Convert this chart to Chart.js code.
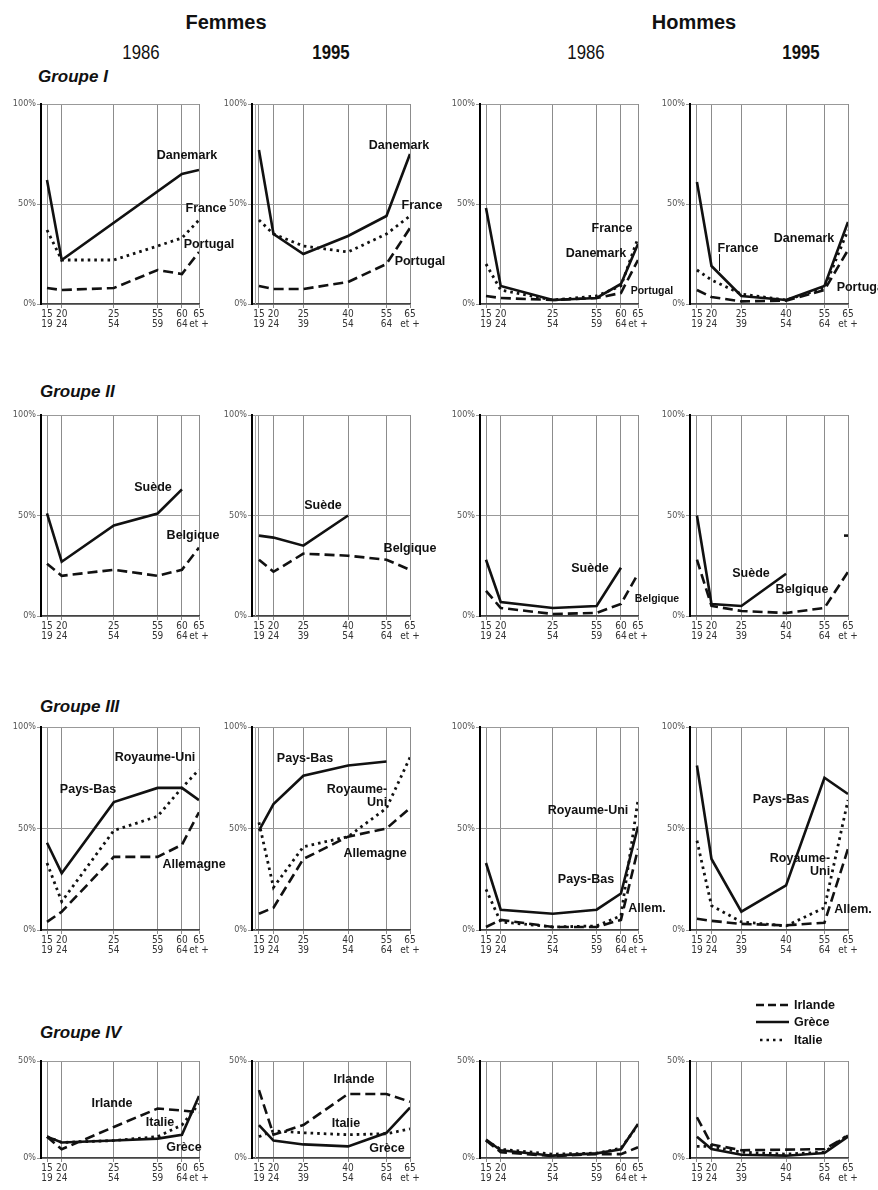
<!DOCTYPE html>
<html lang="fr">
<head>
<meta charset="utf-8">
<script src="https://cdn.jsdelivr.net/npm/chart.js@4.4.1/dist/chart.umd.min.js"></script>
<style>
  body { margin: 0; background: #fff; overflow: hidden; }
  #page { position: relative; width: 878px; height: 1190px; font-family: 'Liberation Sans', Arial, sans-serif; color: #111; overflow: hidden; }
  #page canvas { position: absolute; }
  .t { position: absolute; white-space: nowrap; transform: translate(-50%, -50%); line-height: 1; }
  .head { font-weight: bold; font-size: 20px; }
  .year { font-size: 20px; transform: translate(-50%, -50%) scaleX(0.84); }
  .year.b { font-weight: bold; }
  .grp { position: absolute; font-weight: bold; font-style: italic; font-size: 17px; transform: translateY(-50%); white-space: nowrap; }
  .lab { font-weight: bold; font-size: 12.5px; }
  .lab.small { font-size: 10.5px; }
  .lab.two { text-align: right; line-height: 1.0; }
  .leader { position: absolute; width: 1px; background: #111; }
  #legend { position: absolute; left: 756px; top: 996px; }
  #legend div { height: 17.5px; display: flex; align-items: center; font-weight: bold; font-size: 12.5px; }
  #legend svg { margin-right: 5px; }
</style>
</head>
<body>
<div id="page"></div>
<script>
// age groups on the x axis
const AGES_1986 = [['15', '19'], ['20', '24'], ['25', '54'], ['55', '59'], ['60', '64'], ['65', 'et +']];
const AGES_1995 = [['15', '19'], ['20', '24'], ['25', '39'], ['40', '54'], ['55', '64'], ['65', 'et +']];
// where the printed axis puts each age group (0..100 of the axis width)
const POS_1986 = [3.8, 13.1, 46.1, 73.8, 89.2, 100];
const POS_1995 = [4.4, 13.6, 32.5, 60.8, 85.1, 100];

// Groupe I (%)
const G1_F86_DANEMARK = [62, 22, null, null, 65, 67];
const G1_F86_FRANCE   = [37, 22, 22, 29, 33, 42];
const G1_F86_PORTUGAL = [8, 7, 8, 17, 15, 26];
const G1_F95_DANEMARK = [77, 35, 25, 34, 44, 75];
const G1_F95_FRANCE   = [42, 35, 29, 26, 35, 44];
const G1_F95_PORTUGAL = [9, 7.5, 7.5, 11, 20, 38];
const G1_H86_DANEMARK = [48, 9, 2, 3, 10, 30];
const G1_H86_FRANCE   = [20, 7, 2, 4, 9, 33];
const G1_H86_PORTUGAL = [4, 3, 2, 3, 5.5, 22];
const G1_H95_DANEMARK = [61, 19, 4, 2, 9, 41];
const G1_H95_FRANCE   = [17, 12, 5, 2, 8, 37];
const G1_H95_PORTUGAL = [7, 3.5, 1.3, 1.7, 7, 27];

// Groupe II
const G2_F86_SUEDE    = [51, 27, 45, 51, 63, null];
const G2_F86_BELGIQUE = [26, 20, 23, 20, 23, 34];
const G2_F95_SUEDE    = [40, 39, 35, 50, null, null];
const G2_F95_BELGIQUE = [28, 22, 31, 30, 28, 23];
const G2_H86_SUEDE    = [28, 7, 4, 5, 24, null];
const G2_H86_BELGIQUE = [12.5, 4, 1, 1.5, 6, 21];
const G2_H95_SUEDE    = [50, 6, 5, 21, null, null];
const G2_H95_BELGIQUE = [28, 5, 2.5, 1.5, 4, 22];
const G2_H95_ISOLE    = [null, null, null, null, null, 40];

// Groupe III
const G3_F86_PAYSBAS   = [43, 28, 63, 70, 70, 64];
const G3_F86_ROYAUME   = [33, 14, 49, 56, 70, 79];
const G3_F86_ALLEMAGNE = [4, 9, 36, 36, 42, 58];
const G3_F95_PAYSBAS   = [49, 62, 76, 81, 83, null];
const G3_F95_ROYAUME   = [53, 21, 41, 46, 60, 85];
const G3_F95_ALLEMAGNE = [8, 11, 35, 46, 50, 60];
const G3_H86_PAYSBAS   = [33, 10, 8, 10, 18, 51];
const G3_H86_ROYAUME   = [20, 4, 1.5, 2, 7, 64];
const G3_H86_ALLEMAGNE = [1.5, 5, 1.5, 1.5, 5, 40];
const G3_H95_PAYSBAS   = [81, 35, 9, 22, 75, 67];
const G3_H95_ROYAUME   = [44, 12, 4, 2, 11, 64];
const G3_H95_ALLEMAGNE = [5.5, 4.5, 3, 2.3, 3.6, 40];

// Groupe IV (axis to 50 %)
const G4_F86_IRLANDE = [11, 4.5, 16, 25.5, 24.5, 23.5];
const G4_F86_GRECE   = [11, 8, 9, 10, 12, 32];
const G4_F86_ITALIE  = [11, 8, 9, 11, 17, 28];
const G4_F95_IRLANDE = [35, 12, 17, 33, 33, 29];
const G4_F95_GRECE   = [17, 9, 7, 6, 13, 26];
const G4_F95_ITALIE  = [11, 14, 13, 12, 12.5, 15];
const G4_H86_IRLANDE = [9, 3, 1, 2, 2, 5.5];
const G4_H86_GRECE   = [9.5, 4, 1.2, 2.4, 4.5, 17.5];
const G4_H86_ITALIE  = [9, 4.5, 2, 2.5, 5, 17];
const G4_H95_IRLANDE = [21, 7, 4, 4.3, 4.6, 11.5];
const G4_H95_GRECE   = [11, 4.6, 1.7, 1.2, 2.6, 11];
const G4_H95_ITALIE  = [6, 6, 3, 2, 3, 12];

const LINE = {
  solid:  { borderDash: [], borderWidth: 2.6 },
  dashed: { borderDash: [10, 5], borderWidth: 2.6 },
  dotted: { borderDash: [2.6, 4], borderWidth: 2.8 }
};

const COLS = [41, 252, 480, 690];           // y-axis x of each column
const ROWS = [                               // top of plot, height, max %
  { top: 104, h: 200, max: 100 },
  { top: 415, h: 201, max: 100 },
  { top: 727, h: 203, max: 100 },
  { top: 1061, h: 97, max: 50 }
];

const panels = [
  [0, 0, '86', [[G1_F86_DANEMARK, 'solid'], [G1_F86_FRANCE, 'dotted'], [G1_F86_PORTUGAL, 'dashed']]],
  [0, 1, '95', [[G1_F95_DANEMARK, 'solid'], [G1_F95_FRANCE, 'dotted'], [G1_F95_PORTUGAL, 'dashed']]],
  [0, 2, '86', [[G1_H86_DANEMARK, 'solid'], [G1_H86_FRANCE, 'dotted'], [G1_H86_PORTUGAL, 'dashed']]],
  [0, 3, '95', [[G1_H95_DANEMARK, 'solid'], [G1_H95_FRANCE, 'dotted'], [G1_H95_PORTUGAL, 'dashed']]],
  [1, 0, '86', [[G2_F86_SUEDE, 'solid'], [G2_F86_BELGIQUE, 'dashed']]],
  [1, 1, '95', [[G2_F95_SUEDE, 'solid'], [G2_F95_BELGIQUE, 'dashed']]],
  [1, 2, '86', [[G2_H86_SUEDE, 'solid'], [G2_H86_BELGIQUE, 'dashed']]],
  [1, 3, '95', [[G2_H95_SUEDE, 'solid'], [G2_H95_BELGIQUE, 'dashed'], [G2_H95_ISOLE, 'dash-point']]],
  [2, 0, '86', [[G3_F86_PAYSBAS, 'solid'], [G3_F86_ROYAUME, 'dotted'], [G3_F86_ALLEMAGNE, 'dashed']]],
  [2, 1, '95', [[G3_F95_PAYSBAS, 'solid'], [G3_F95_ROYAUME, 'dotted'], [G3_F95_ALLEMAGNE, 'dashed']]],
  [2, 2, '86', [[G3_H86_PAYSBAS, 'solid'], [G3_H86_ROYAUME, 'dotted'], [G3_H86_ALLEMAGNE, 'dashed']]],
  [2, 3, '95', [[G3_H95_PAYSBAS, 'solid'], [G3_H95_ROYAUME, 'dotted'], [G3_H95_ALLEMAGNE, 'dashed']]],
  [3, 0, '86', [[G4_F86_IRLANDE, 'dashed'], [G4_F86_GRECE, 'solid'], [G4_F86_ITALIE, 'dotted']]],
  [3, 1, '95', [[G4_F95_IRLANDE, 'dashed'], [G4_F95_GRECE, 'solid'], [G4_F95_ITALIE, 'dotted']]],
  [3, 2, '86', [[G4_H86_IRLANDE, 'dashed'], [G4_H86_GRECE, 'solid'], [G4_H86_ITALIE, 'dotted']]],
  [3, 3, '95', [[G4_H95_IRLANDE, 'dashed'], [G4_H95_GRECE, 'solid'], [G4_H95_ITALIE, 'dotted']]]
];

const NARROW = "'Liberation Sans Narrow', 'DejaVu Sans Condensed', sans-serif";
const page = document.getElementById('page');

// the 1995 women panels have a faint second rule next to the y axis
const axisShadow = {
  id: 'axisShadow',
  beforeDatasetsDraw(chart, args, opts) {
    if (!opts.on) return;
    const { ctx, chartArea } = chart;
    ctx.save();
    ctx.strokeStyle = '#aaa';
    ctx.lineWidth = 1;
    ctx.beginPath();
    ctx.moveTo(chartArea.left + 3.5, chartArea.top);
    ctx.lineTo(chartArea.left + 3.5, chartArea.bottom);
    ctx.stroke();
    ctx.restore();
  }
};

function makePanel(row, col, year, series) {
  const r = ROWS[row];
  const ages = year === '86' ? AGES_1986 : AGES_1995;
  const pos = year === '86' ? POS_1986 : POS_1995;
  const padL = 40, padR = 18, padT = 8, axisH = 28, w = 158;

  const canvas = document.createElement('canvas');
  canvas.width = padL + w + padR;
  canvas.height = padT + r.h + axisH;
  canvas.style.left = (COLS[col] - padL) + 'px';
  canvas.style.top = (r.top - padT) + 'px';
  page.appendChild(canvas);

  const datasets = series.map(([vals, kind]) => {
    const pts = vals.map((v, i) => ({ x: pos[i], y: v }));
    if (kind === 'dash-point') {
      return { data: pts, showLine: false, pointStyle: 'line', pointRadius: 4,
               pointBorderWidth: 2.6, pointBorderColor: '#111' };
    }
    return {
      data: pts,
      borderColor: '#111',
      borderWidth: LINE[kind].borderWidth,
      borderDash: LINE[kind].borderDash,
      pointRadius: 0,
      spanGaps: true,
      tension: 0,
      fill: false
    };
  });

  new Chart(canvas, {
    type: 'line',
    data: { datasets },
    plugins: [axisShadow],
    options: {
      responsive: false,
      animation: false,
      devicePixelRatio: 1,
      layout: { padding: { left: 0, right: padR, top: padT, bottom: 0 } },
      plugins: { legend: { display: false }, tooltip: { enabled: false }, axisShadow: { on: col === 1 } },
      scales: {
        x: {
          type: 'linear', min: 0, max: 100,
          afterBuildTicks: s => { s.ticks = pos.map(v => ({ value: v })); },
          afterFit: s => { s.height = axisH; },
          ticks: {
            autoSkip: false, maxRotation: 0, padding: 1, color: '#333',
            font: { family: NARROW, size: 10, lineHeight: 1.05 },
            callback: (v, i) => ages[i]
          },
          grid: { color: '#8c8c8c', lineWidth: 1, tickLength: 4 },
          border: { color: '#444', width: 1.5 }
        },
        y: {
          min: 0, max: r.max,
          afterBuildTicks: s => { s.ticks = (r.max === 100 ? [0, 50, 100] : [0, 50]).map(v => ({ value: v })); },
          afterFit: s => { s.width = padL; },
          ticks: {
            color: '#555', padding: 1,
            font: { family: NARROW, size: 9 },
            callback: v => v + '%'
          },
          grid: { color: '#999', lineWidth: 1, tickLength: 4 },
          border: { color: '#000', width: 2 }
        }
      }
    }
  });
}

panels.forEach(p => makePanel(p[0], p[1], p[2], p[3]));

// titles and country names
const texts = [
  ['head', 'Femmes', 226, 22], ['head', 'Hommes', 694, 22],
  ['year', '1986', 141, 52], ['year b', '1995', 331, 52],
  ['year', '1986', 586, 52], ['year b', '1995', 801, 52],

  ['lab', 'Danemark', 187, 155], ['lab', 'France', 206, 208], ['lab', 'Portugal', 209, 244],
  ['lab', 'Danemark', 399, 145], ['lab', 'France', 422, 205], ['lab', 'Portugal', 420, 261],
  ['lab', 'France', 612, 228], ['lab', 'Danemark', 596, 253], ['lab small', 'Portugal', 652, 290],
  ['lab', 'France', 738, 248], ['lab', 'Danemark', 804, 238], ['lab', 'Portugal', 862, 287],

  ['lab', 'Suède', 153, 487], ['lab', 'Belgique', 193, 535],
  ['lab', 'Suède', 323, 505], ['lab', 'Belgique', 410, 548],
  ['lab', 'Suède', 590, 568], ['lab small', 'Belgique', 657, 598],
  ['lab', 'Suède', 751, 573], ['lab', 'Belgique', 802, 589],

  ['lab', 'Royaume-Uni', 155, 757], ['lab', 'Pays-Bas', 88, 789], ['lab', 'Allemagne', 194, 864],
  ['lab', 'Pays-Bas', 305, 758], ['lab two', 'Royaume-<br>Uni', 357, 795], ['lab', 'Allemagne', 375, 853],
  ['lab', 'Royaume-Uni', 588, 810], ['lab', 'Pays-Bas', 586, 879], ['lab', 'Allem.', 647, 908],
  ['lab', 'Pays-Bas', 781, 799], ['lab two', 'Royaume-<br>Uni', 800, 864], ['lab', 'Allem.', 853, 909],

  ['lab', 'Irlande', 112, 1103], ['lab', 'Italie', 160, 1122], ['lab', 'Grèce', 184, 1147],
  ['lab', 'Irlande', 354, 1079], ['lab', 'Italie', 346, 1123], ['lab', 'Grèce', 387, 1148]
];
texts.forEach(([cls, txt, x, y]) => {
  const d = document.createElement('div');
  d.className = 't ' + cls;
  d.innerHTML = txt;
  d.style.left = x + 'px';
  d.style.top = y + 'px';
  page.appendChild(d);
});

[['Groupe I', 38, 77], ['Groupe II', 40, 392], ['Groupe III', 40, 707], ['Groupe IV', 40, 1033]].forEach(([txt, x, y]) => {
  const d = document.createElement('div');
  d.className = 'grp';
  d.textContent = txt;
  d.style.left = x + 'px';
  d.style.top = y + 'px';
  page.appendChild(d);
});

// small pointer from the "France" label in the 1995 men panel
const lead = document.createElement('div');
lead.className = 'leader';
lead.style.left = '719px'; lead.style.top = '254px'; lead.style.height = '17px';
page.appendChild(lead);

// legend of Groupe IV
const LEGEND = [['Irlande', '8,4'], ['Grèce', ''], ['Italie', '2.5,4']];
const lg = document.createElement('div');
lg.id = 'legend';
lg.innerHTML = LEGEND.map(([name, dash]) =>
  '<div><svg width="33" height="6"><line x1="' + (dash === '2.5,4' ? 4 : 0) + '" y1="3" x2="' + (dash === '2.5,4' ? 29 : 33) +
  '" y2="3" stroke="#111" stroke-width="2.6"' + (dash ? ' stroke-dasharray="' + dash + '"' : '') + '/></svg>' + name + '</div>'
).join('');
page.appendChild(lg);
</script>
</body>
</html>
